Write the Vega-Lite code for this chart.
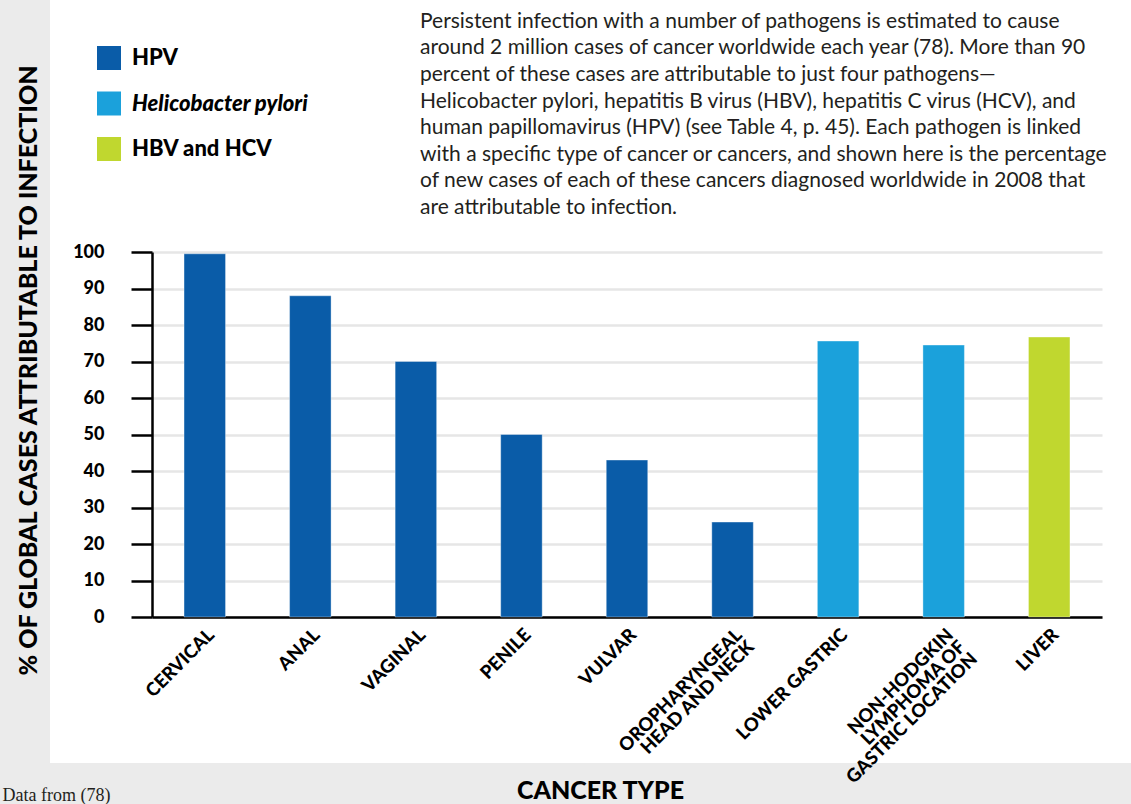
{
  "$schema": "https://vega.github.io/schema/vega-lite/v6.json",
  "width": 1081,
  "height": 763,
  "autosize": "none",
  "padding": {"left": 50, "top": 0, "right": 0, "bottom": 41},
  "background": "#ebebeb",
  "config": {"view": {"fill": "white", "stroke": null}, "font": "Lato"},
  "title": {
    "text": [
      "Persistent infection with a number of pathogens is estimated to cause",
      "around 2 million cases of cancer worldwide each year (78). More than 90",
      "percent of these cases are attributable to just four pathogens—",
      "Helicobacter pylori, hepatitis B virus (HBV), hepatitis C virus (HCV), and",
      "human papillomavirus (HPV) (see Table 4, p. 45). Each pathogen is linked",
      "with a specific type of cancer or cancers, and shown here is the percentage",
      "of new cases of each of these cancers diagnosed worldwide in 2008 that",
      "are attributable to infection."
    ],
    "orient": "top",
    "anchor": "start",
    "frame": "group",
    "dx": 370,
    "dy": 218,
    "offset": 0,
    "font": "Lato",
    "fontSize": 21,
    "fontWeight": "normal",
    "color": "#231f20",
    "lineHeight": 26.6
  },
  "data": {
    "values": [
      {"cancer": "CERVICAL", "pct": 99.5, "pathogen": "HPV"},
      {"cancer": "ANAL", "pct": 88, "pathogen": "HPV"},
      {"cancer": "VAGINAL", "pct": 70, "pathogen": "HPV"},
      {"cancer": "PENILE", "pct": 50, "pathogen": "HPV"},
      {"cancer": "VULVAR", "pct": 43, "pathogen": "HPV"},
      {"cancer": "OROPHARYNGEAL HEAD AND NECK", "pct": 26, "pathogen": "HPV"},
      {"cancer": "LOWER GASTRIC", "pct": 75.6, "pathogen": "Helicobacter pylori"},
      {"cancer": "NON-HODGKIN LYMPHOMA OF GASTRIC LOCATION", "pct": 74.5, "pathogen": "Helicobacter pylori"},
      {"cancer": "LIVER", "pct": 76.7, "pathogen": "HBV and HCV"}
    ]
  },
  "layer": [
    {
      "mark": {"type": "bar"},
      "encoding": {
        "x": {
          "field": "cancer",
          "type": "nominal",
          "sort": null,
          "scale": {"range": [102, 1052], "paddingInner": 0.607, "paddingOuter": 0.3035},
          "axis": {
            "title": "CANCER TYPE",
            "orient": "bottom",
            "offset": -146,
            "domain": true,
            "domainColor": "#000000",
            "domainWidth": 2.5,
            "ticks": false,
            "grid": false,
            "labelAngle": -45,
            "labelFont": "Lato",
            "labelFontWeight": 900,
            "labelFontSize": 18.5,
            "labelColor": "#000000",
            "labelPadding": 8,
            "labelLimit": 0,
            "labelOverlap": false,
            "labelLineHeight": 17,
            "labelExpr": "datum.value == 'OROPHARYNGEAL HEAD AND NECK' ? ['OROPHARYNGEAL', 'HEAD AND NECK'] : datum.value == 'NON-HODGKIN LYMPHOMA OF GASTRIC LOCATION' ? ['NON-HODGKIN', 'LYMPHOMA OF', 'GASTRIC LOCATION'] : datum.value",
            "titleFont": "Lato",
            "titleFontSize": 25,
            "titleFontWeight": 900,
            "titleColor": "#000000",
            "titleX": 550,
            "titleY": 181,
            "titleAlign": "center",
            "titleBaseline": "alphabetic"
          }
        },
        "y": {
          "field": "pct",
          "type": "quantitative",
          "scale": {"domain": [0, 100], "range": [617, 252], "nice": false},
          "axis": {
            "title": "% OF GLOBAL CASES ATTRIBUTABLE TO INFECTION",
            "orient": "left",
            "offset": -102,
            "values": [0, 10, 20, 30, 40, 50, 60, 70, 80, 90, 100],
            "domainColor": "#000000",
            "domainWidth": 2.5,
            "tickColor": "#000000",
            "tickWidth": 2.5,
            "tickSize": 21,
            "labelFont": "Lato",
            "labelFontWeight": 900,
            "labelFontSize": 18,
            "labelColor": "#000000",
            "labelPadding": 27,
            "grid": true,
            "gridColor": "#e6e6e6",
            "gridWidth": 2.5,
            "titleFont": "Lato",
            "titleFontSize": 25,
            "titleFontWeight": 900,
            "titleColor": "#000000",
            "titleX": -116,
            "titleY": 370,
            "titleAlign": "center",
            "titleBaseline": "alphabetic"
          }
        },
        "color": {
          "field": "pathogen",
          "type": "nominal",
          "scale": {
            "domain": ["HPV", "Helicobacter pylori", "HBV and HCV"],
            "range": ["#0a5ca8", "#1ba1db", "#c0d72f"]
          },
          "legend": {
            "orient": "none",
            "legendX": 47,
            "legendY": 46,
            "title": null,
            "direction": "vertical",
            "symbolType": "square",
            "symbolSize": 576,
            "symbolStrokeWidth": 0,
            "symbolOpacity": 1,
            "labelFont": "Lato",
            "labelFontSize": 22,
            "labelFontWeight": 900,
            "labelColor": "#000000",
            "labelOffset": 11,
            "labelLimit": 0,
            "rowPadding": 21.5,
            "padding": 0,
            "encode": {
              "labels": {
                "update": {
                  "fontStyle": {"signal": "datum.label == 'Helicobacter pylori' ? 'italic' : 'normal'"}
                }
              }
            }
          }
        }
      }
    },
    {
      "mark": {"type": "bar", "filled": false, "stroke": "#ffffff", "strokeOpacity": 0.35, "strokeWidth": 1},
      "encoding": {
        "x": {"field": "cancer", "type": "nominal", "sort": null},
        "y": {
          "field": "pct",
          "type": "quantitative",
          "scale": {"domain": [0, 100], "range": [617, 252], "nice": false},
          "axis": {
            "title": "Data from (78)",
            "orient": "right",
            "domain": false,
            "ticks": false,
            "labels": false,
            "grid": false,
            "titleFont": "Liberation Serif",
            "titleFontSize": 18,
            "titleFontWeight": "normal",
            "titleColor": "#231f20",
            "titleAngle": 0,
            "titleX": -1129,
            "titleY": 800,
            "titleAlign": "left",
            "titleBaseline": "alphabetic"
          }
        }
      }
    }
  ],
  "resolve": {"scale": {"y": "independent"}}
}
